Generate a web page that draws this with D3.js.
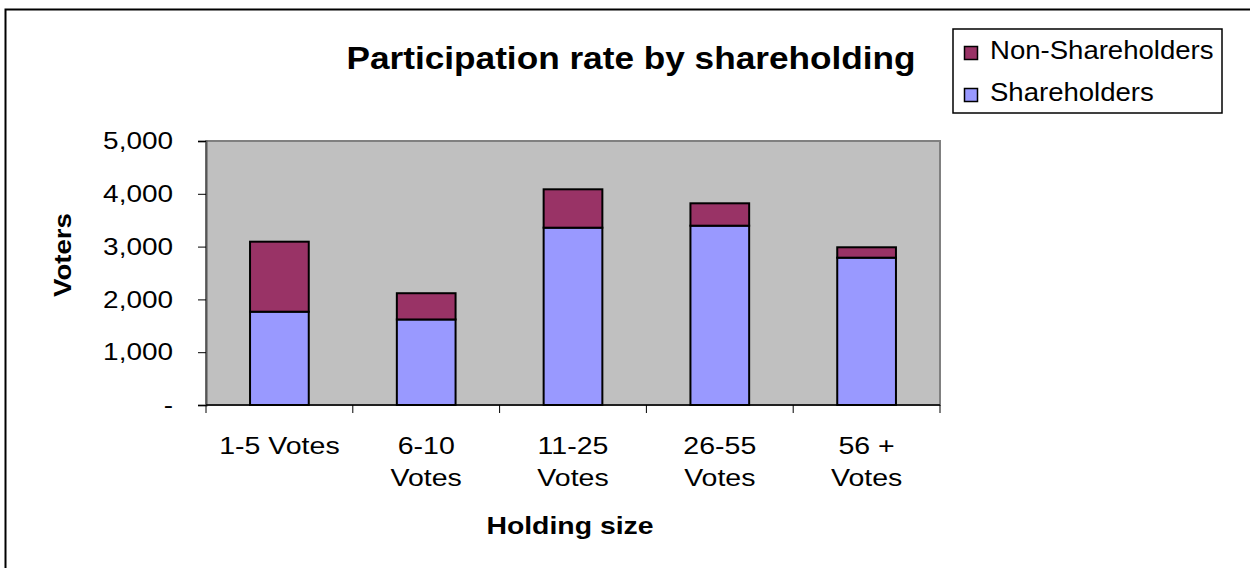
<!DOCTYPE html>
<html>
<head>
<meta charset="utf-8">
<script src="https://cdn.jsdelivr.net/npm/d3@7"></script>
<style>
  body { margin: 0; background: #fff; }
  svg { display: block; font-family: "Liberation Sans", Arial, sans-serif; }
</style>
</head>
<body>
<svg id="chart" width="1250" height="568"></svg>
<script>
// data
var categories = [["1-5 Votes"], ["6-10", "Votes"], ["11-25", "Votes"], ["26-55", "Votes"], ["56 +", "Votes"]];
var shareholders = [1767, 1620, 3358, 3396, 2790];
var nonShareholders = [1326, 497, 727, 424, 197];
var yTicks = [0, 1000, 2000, 3000, 4000, 5000];
var seriesNames = ["Shareholders", "Non-Shareholders"];
var colors = ["#9999FF", "#993366"];

var margin = {top: 141, left: 206},
    width = 734,
    height = 264;

var svg = d3.select("#chart");

// text in the original is a bit wider than Arial, so stretch it sideways
function label(parent, x, y, txt, size, sx, anchor, bold) {
  return parent.append("text")
    .attr("transform", "translate(" + x + "," + y + ") scale(" + sx + ",1)")
    .attr("text-anchor", anchor || "start")
    .attr("font-size", size)
    .attr("font-weight", bold ? "bold" : null)
    .attr("fill", "#000")
    .text(txt);
}

// outer chart frame
svg.append("rect")
  .attr("x", 5.5).attr("y", 9.5)
  .attr("width", 1300).attr("height", 700)
  .attr("fill", "none")
  .attr("stroke", "#000")
  .attr("stroke-width", 2);

var g = svg.append("g")
  .attr("transform", "translate(" + margin.left + "," + margin.top + ")");

var x = d3.scaleBand()
  .domain(d3.range(categories.length))
  .range([0, width])
  .paddingInner(0.6)
  .paddingOuter(0.3);

var y = d3.scaleLinear()
  .domain([0, 5000])
  .range([height, 0]);

// plot area
g.append("rect")
  .attr("width", width)
  .attr("height", height)
  .attr("fill", "#C0C0C0")
  .attr("stroke", "#808080")
  .attr("stroke-width", 2);

var stackData = categories.map(function(c, i) {
  return {i: i, s: shareholders[i], n: nonShareholders[i]};
});
var stack = d3.stack().keys(["s", "n"])(stackData);

g.selectAll(".layer")
  .data(stack)
  .enter().append("g")
  .attr("fill", function(d, k) { return colors[k]; })
  .selectAll("rect")
  .data(function(d) { return d; })
  .enter().append("rect")
  .attr("x", function(d) { return x(d.data.i); })
  .attr("y", function(d) { return y(d[1]); })
  .attr("width", x.bandwidth())
  .attr("height", function(d) { return y(d[0]) - y(d[1]); })
  .attr("stroke", "#000")
  .attr("stroke-width", 2);

// y axis
var yAxis = d3.axisLeft(y)
  .tickValues(yTicks)
  .tickSize(8)
  .tickFormat(function(d) { return d === 0 ? "-" : d3.format(",")(d); });
var ya = g.append("g").call(yAxis);
ya.select(".domain").attr("stroke", "#555").attr("stroke-width", 2);
ya.selectAll(".tick line").attr("stroke", "#000");
ya.selectAll(".tick text")
  .attr("x", 0)
  .attr("transform", "translate(-33,0) scale(1.15,1)")
  .attr("font-size", 24.3)
  .attr("font-family", "Liberation Sans, Arial, sans-serif")
  .attr("fill", "#000");

// x axis: ticks on category boundaries
var xa = g.append("g").attr("transform", "translate(0," + height + ")");
xa.append("line").attr("x1", 0).attr("x2", width).attr("stroke", "#000").attr("stroke-width", 1.5);
xa.selectAll(".xt")
  .data(d3.range(categories.length + 1))
  .enter().append("line")
  .attr("x1", function(d) { return d * width / categories.length; })
  .attr("x2", function(d) { return d * width / categories.length; })
  .attr("y1", 0).attr("y2", 8)
  .attr("stroke", "#000");

categories.forEach(function(lines, i) {
  lines.forEach(function(t, k) {
    label(xa, x(i) + x.bandwidth() / 2, 49 + k * 32, t, 24.8, 1.15, "middle");
  });
});

// titles
label(svg, 631, 69, "Participation rate by shareholding", 32, 1.1, "middle", true);
label(svg, 570, 534, "Holding size", 24.7, 1.15, "middle", true);
svg.append("g")
  .attr("transform", "translate(71,255) rotate(-90)")
  .call(function(s) { label(s, 0, 0, "Voters", 24, 1.15, "middle", true); });

// legend
var lg = svg.append("g").attr("transform", "translate(953,29)");
lg.append("rect")
  .attr("width", 269).attr("height", 84)
  .attr("fill", "#fff").attr("stroke", "#000").attr("stroke-width", 1.5);
var legendOrder = [1, 0];
var items = lg.selectAll(".li")
  .data(legendOrder)
  .enter().append("g")
  .attr("transform", function(d, k) { return "translate(0," + (k * 42) + ")"; });
items.append("rect")
  .attr("x", 11.5).attr("y", 17.5)
  .attr("width", 13).attr("height", 13)
  .attr("fill", function(d) { return colors[d]; })
  .attr("stroke", "#000").attr("stroke-width", 1.5);
items.each(function(d) {
  label(d3.select(this), 37, 30, seriesNames[d], 26.5, 1.04, "start");
});
</script>
</body>
</html>
